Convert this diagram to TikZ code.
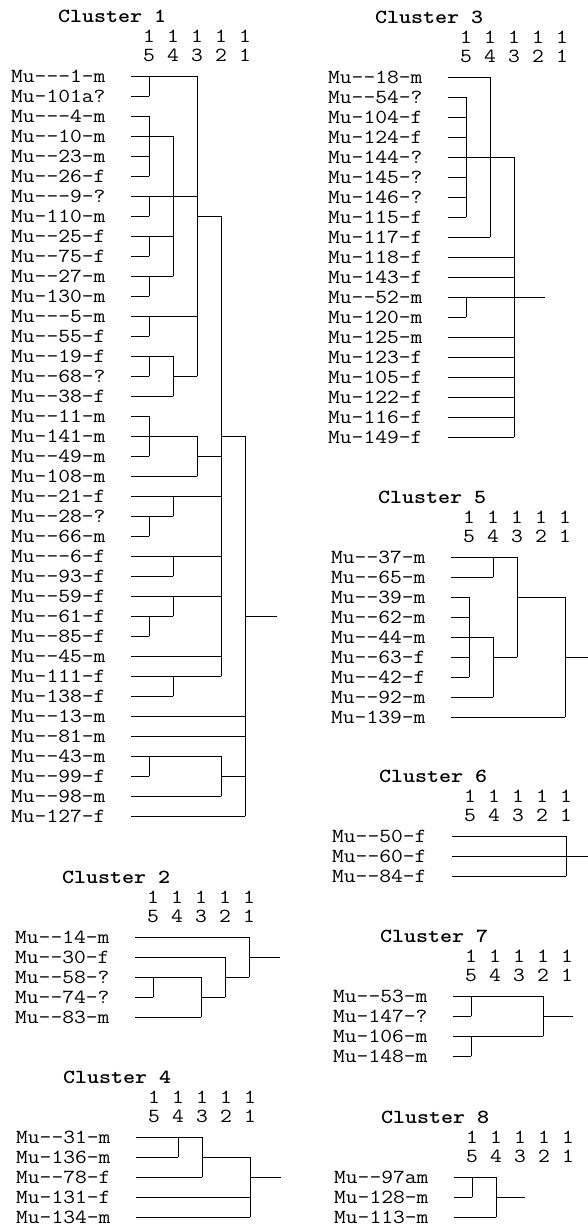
\documentclass[tikz,border=0pt]{standalone}
\usepackage{fontspec}
\usepackage{graphicx}
\newcommand\mytt[1]{\scalebox{1.143}[1]{#1}}
\newcommand\lvA{138}
\newcommand\lvB{162}
\newcommand\lvC{186}
\newcommand\lvD{210}
\newcommand\lvE{234}
\tikzset{
  lbl/.style={anchor=west, inner sep=0pt, text height=12pt, text depth=0pt,
    font=\fontsize{20}{20}\selectfont\ttfamily},
  ttl/.style={lbl, font=\fontsize{20}{20}\selectfont\ttfamily\bfseries},
  dig/.style={anchor=center, inner sep=0pt, text height=12pt, text depth=0pt,
    font=\fontsize{20}{20}\selectfont\ttfamily},
  br/.style={line width=0.9pt, line cap=rect, draw=black}
}
\newcommand\hln[2]{\draw[br] (120,#1) -- (#2,#1);}
\newcommand\stb[3]{\draw[br] (#2,#1) -- (#3,#1);}
\newcommand\vln[3]{\draw[br] (#1,#2) -- (#1,#3);}
\newcommand\clhead[2]{%
  \node[ttl] (#1t) at (47,-3) {\mytt{Cluster #2}};
  \foreach \x/\a/\b [count=\k] in {\lvA/1/5,\lvB/1/4,\lvC/1/3,\lvD/1/2,\lvE/1/1}{
    \node[dig] (#1a\k) at (\x,-2) {\mytt{\a}};
    \node[dig] (#1b\k) at (\x,-1.025) {\mytt{\b}};
  }}
\newcommand\cllabels[2]{\foreach \t [count=\i from 0] in {#2} {\node[lbl] (#1r\i) at (0,\i) {\mytt{\t}};}}
\begin{document}
\begin{tikzpicture}
\useasboundingbox[fill=white] (0,0) rectangle (588pt,-1227pt);
% Cluster 1
\begin{scope}[shift={(11pt,-76pt)}, x=1pt, y=-20pt]
\clhead{ca}{1}
\cllabels{ca}{Mu---1-m,Mu-101a?,Mu---4-m,Mu--10-m,Mu--23-m,Mu--26-f,Mu---9-?,Mu-110-m,Mu--25-f,Mu--75-f,Mu--27-m,Mu-130-m,Mu---5-m,Mu--55-f,Mu--19-f,Mu--68-?,Mu--38-f,Mu--11-m,Mu-141-m,Mu--49-m,Mu-108-m,Mu--21-f,Mu--28-?,Mu--66-m,Mu---6-f,Mu--93-f,Mu--59-f,Mu--61-f,Mu--85-f,Mu--45-m,Mu-111-f,Mu-138-f,Mu--13-m,Mu--81-m,Mu--43-m,Mu--99-f,Mu--98-m,Mu-127-f}
\hln{0}{\lvC}\hln{1}{\lvA}\hln{2}{\lvA}\hln{3}{\lvB}\hln{4}{\lvA}\hln{5}{\lvA}
\hln{6}{\lvC}\hln{7}{\lvA}\hln{8}{\lvB}\hln{9}{\lvA}\hln{10}{\lvB}\hln{11}{\lvA}
\hln{12}{\lvC}\hln{13}{\lvA}\hln{14}{\lvB}\hln{15}{\lvA}\hln{16}{\lvB}\hln{17}{\lvA}
\hln{18}{\lvC}\hln{19}{\lvA}\hln{20}{\lvC}\hln{21}{\lvD}\hln{22}{\lvB}\hln{23}{\lvA}
\hln{24}{\lvD}\hln{25}{\lvB}\hln{26}{\lvD}\hln{27}{\lvB}\hln{28}{\lvA}\hln{29}{\lvD}
\hln{30}{\lvD}\hln{31}{\lvB}\hln{32}{\lvE}\hln{33}{\lvE}\hln{34}{\lvD}\hln{35}{\lvA}
\hln{36}{\lvD}\hln{37}{\lvE}
\stb{7}{\lvC}{\lvD}\stb{15}{\lvB}{\lvC}\stb{19}{\lvC}{\lvD}\stb{18}{\lvD}{\lvE}
\stb{35}{\lvD}{\lvE}\stb{27}{\lvE}{266}
\vln{\lvA}{0}{1}\vln{\lvA}{2}{5}\vln{\lvA}{6}{7}\vln{\lvA}{8}{9}\vln{\lvA}{10}{11}
\vln{\lvA}{12}{13}\vln{\lvA}{14}{15}\vln{\lvA}{17}{19}\vln{\lvA}{22}{23}
\vln{\lvA}{27}{28}\vln{\lvA}{34}{35}
\vln{\lvB}{3}{10}\vln{\lvB}{14}{16}\vln{\lvB}{21}{22}\vln{\lvB}{24}{25}
\vln{\lvB}{26}{27}\vln{\lvB}{30}{31}
\vln{\lvC}{0}{15}\vln{\lvC}{18}{20}
\vln{\lvD}{7}{30}\vln{\lvD}{34}{36}
\vln{\lvE}{18}{37}
\end{scope}
% Cluster 2
\begin{scope}[shift={(15pt,-937pt)}, x=1pt, y=-20pt]
\clhead{cb}{2}
\cllabels{cb}{Mu--14-m,Mu--30-f,Mu--58-?,Mu--74-?,Mu--83-m}
\hln{0}{\lvE}\hln{1}{\lvD}\hln{2}{\lvC}\hln{3}{\lvA}\hln{4}{\lvC}
\stb{3}{\lvC}{\lvD}\stb{2}{\lvD}{\lvE}\stb{1}{\lvE}{265}
\vln{\lvA}{2}{3}\vln{\lvC}{2}{4}\vln{\lvD}{1}{3}\vln{\lvE}{0}{2}
\end{scope}
% Cluster 4
\begin{scope}[shift={(16pt,-1137pt)}, x=1pt, y=-20pt]
\clhead{cd}{4}
\cllabels{cd}{Mu--31-m,Mu-136-m,Mu--78-f,Mu-131-f,Mu-134-m}
\hln{0}{\lvC}\hln{1}{\lvB}\hln{2}{\lvC}\hln{3}{\lvE}\hln{4}{\lvE}
\stb{1}{\lvC}{\lvE}\stb{2}{\lvE}{265}
\vln{\lvB}{0}{1}\vln{\lvC}{0}{2}\vln{\lvE}{1}{4}
\end{scope}
% Cluster 3
\begin{scope}[shift={(328pt,-77pt)}, x=1pt, y=-20pt]
\clhead{cc}{3}
\cllabels{cc}{Mu--18-m,Mu--54-?,Mu-104-f,Mu-124-f,Mu-144-?,Mu-145-?,Mu-146-?,Mu-115-f,Mu-117-f,Mu-118-f,Mu-143-f,Mu--52-m,Mu-120-m,Mu-125-m,Mu-123-f,Mu-105-f,Mu-122-f,Mu-116-f,Mu-149-f}
\hln{0}{\lvB}\hln{1}{\lvA}\hln{2}{\lvA}\hln{3}{\lvA}\hln{4}{\lvC}\hln{5}{\lvA}
\hln{6}{\lvA}\hln{7}{\lvA}\hln{8}{\lvB}\hln{9}{\lvC}\hln{10}{\lvC}\hln{11}{217}
\hln{12}{\lvA}\hln{13}{\lvC}\hln{14}{\lvC}\hln{15}{\lvC}\hln{16}{\lvC}\hln{17}{\lvC}
\hln{18}{\lvC}
\vln{\lvA}{1}{7}\vln{\lvB}{0}{8}\vln{\lvC}{4}{18}\vln{\lvA}{11}{12}
\end{scope}
% Cluster 5
\begin{scope}[shift={(331pt,-557pt)}, x=1pt, y=-20pt]
\clhead{ce}{5}
\cllabels{ce}{Mu--37-m,Mu--65-m,Mu--39-m,Mu--62-m,Mu--44-m,Mu--63-f,Mu--42-f,Mu--92-m,Mu-139-m}
\hln{0}{\lvC}\hln{1}{\lvB}\hln{2}{\lvA}\hln{3}{\lvA}\hln{4}{\lvB}\hln{5}{\lvA}
\hln{6}{\lvA}\hln{7}{\lvB}\hln{8}{\lvE}
\stb{5}{\lvB}{\lvC}\stb{2}{\lvC}{\lvE}\stb{5}{\lvE}{257}
\vln{\lvB}{0}{1}\vln{\lvA}{2}{6}\vln{\lvB}{4}{7}\vln{\lvC}{0}{5}\vln{\lvE}{2}{8}
\end{scope}
% Cluster 6
\begin{scope}[shift={(332pt,-836pt)}, x=1pt, y=-20pt]
\clhead{cf}{6}
\cllabels{cf}{Mu--50-f,Mu--60-f,Mu--84-f}
\hln{0}{\lvE}\hln{1}{256}\hln{2}{\lvE}
\vln{\lvE}{0}{2}
\end{scope}
% Cluster 7
\begin{scope}[shift={(333pt,-996pt)}, x=1pt, y=-20pt]
\clhead{cg}{7}
\cllabels{cg}{Mu--53-m,Mu-147-?,Mu-106-m,Mu-148-m}
\hln{0}{\lvD}\hln{1}{\lvA}\hln{2}{\lvD}\hln{3}{\lvA}
\stb{1}{\lvD}{240}
\vln{\lvA}{0}{1}\vln{\lvA}{2}{3}\vln{\lvD}{0}{2}
\end{scope}
% Cluster 8
\begin{scope}[shift={(334pt,-1177pt)}, x=1pt, y=-20pt]
\clhead{ch}{8}
\cllabels{ch}{Mu--97am,Mu-128-m,Mu-113-m}
\hln{0}{\lvB}\hln{1}{\lvA}\hln{2}{\lvB}
\stb{1}{\lvB}{191}
\vln{\lvA}{0}{1}\vln{\lvB}{0}{2}
\end{scope}
\end{tikzpicture}
\end{document}
